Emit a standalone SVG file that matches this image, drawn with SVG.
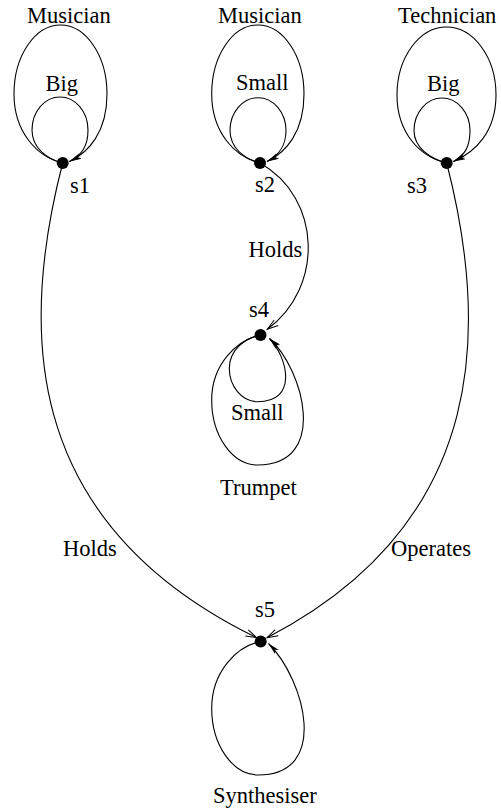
<svg xmlns="http://www.w3.org/2000/svg" width="501" height="811" viewBox="0 0 501 811">
<style>
.e{fill:none;stroke:#000;stroke-width:1.1}
.t{font-family:"Liberation Serif","Times New Roman",serif;font-size:22.5px;fill:#000}
.d{fill:#000}
</style>
<defs>
<marker id="open" viewBox="0 0 14 10" refX="12" refY="5" markerWidth="14" markerHeight="10" markerUnits="userSpaceOnUse" orient="auto">
<path d="M1,1.6 L12,5 L1,8.4" fill="none" stroke="#000" stroke-width="1"/>
</marker>
<marker id="solid" viewBox="0 0 14 8" refX="12" refY="4" markerWidth="14" markerHeight="8" markerUnits="userSpaceOnUse" orient="auto">
<path d="M0,1.3 L12,4 L0,6.7 L3,4 z" fill="#000"/>
</marker>
</defs>
<rect width="501" height="811" fill="#fff"/>
<g id="connectors">
<path class="e" marker-end="url(#solid)" d="M62.7,163 C37.1,157 14,132 14,94 C14,56 34.9,25 60.5,25 C86.1,25 107,56 107,94 C107,132 88.7,152.5 69.5,161.5"/>
<path class="e" marker-end="url(#solid)" d="M62.7,163 C47.3,159 32,148.2 32,130 C32,111.8 44.6,97 60,97 C75.4,97 88,111.8 88,130 C88,146 82,155 69.5,161.5"/>
<path class="e" marker-end="url(#solid)" d="M260,163 C234.6,157 211.7,132 211.7,94 C211.7,56 232.5,25 257.85,25 C283.2,25 304,56 304,94 C304,132 286,152.5 267,161.5"/>
<path class="e" marker-end="url(#solid)" d="M260,163 C244.6,159 230,148.3 230,130.35 C230,112.4 242.6,97.7 258,97.7 C273.4,97.7 286,112.4 286,130.35 C286,146 279.3,155 267,161.5"/>
<path class="e" marker-end="url(#solid)" d="M446.7,163 C419.5,157 397,132.4 397,95 C397,57.6 419.3,27 446.5,27 C473.7,27 496,57.6 496,95 C496,132.4 474.7,152.5 453.5,161.5"/>
<path class="e" marker-end="url(#solid)" d="M446.7,163 C431.3,159 414,148.4 414,130.5 C414,112.6 426.6,98 442,98 C457.4,98 470,112.6 470,130.5 C470,146 465.4,155 453.5,161.5"/>
<path class="e" marker-end="url(#open)" d="M260,163 C322,198 324,288 267.3,329.3"/>
<path class="e" marker-end="url(#solid)" d="M260.5,335 C237,340 211.7,364.25 211.7,400 C211.7,435.75 232.3,465 257.5,465 C329,465 304,370 269.5,338.5"/>
<path class="e" marker-end="url(#solid)" d="M260.5,335 C245,338 229.3,350 229.3,368.35 C229.3,386.7 242,401.7 257.65,401.7 C298,401.7 288,358 269.5,338.5"/>
<path class="e" marker-end="url(#open)" d="M62.7,163 C22,320 15,520 256.7,637.7"/>
<path class="e" marker-end="url(#open)" d="M446.7,163 C487,320 494,520 267,637.7"/>
<path class="e" marker-end="url(#solid)" d="M260.7,641.5 C237,646 211.7,671.5 211.7,708.25 C211.7,745 232.65,775 258.35,775 C330,775 305,680 268.5,643.5"/>
</g>
<g id="s1"><circle class="d" cx="62.7" cy="163" r="6"/><text class="t" x="70" y="193">s1</text><text class="t" x="27" y="23">Musician</text><text class="t" x="45.5" y="91">Big</text></g>
<g id="s2"><circle class="d" cx="260" cy="163" r="6"/><text class="t" x="255" y="192">s2</text><text class="t" x="218" y="23">Musician</text><text class="t" x="236" y="90">Small</text></g>
<g id="s3"><circle class="d" cx="446.7" cy="163" r="6"/><text class="t" x="407" y="193">s3</text><text class="t" x="398" y="23">Technician</text><text class="t" x="427" y="91">Big</text></g>
<g id="s4"><circle class="d" cx="260.5" cy="335" r="6"/><text class="t" x="249" y="317">s4</text><text class="t" x="231" y="420">Small</text><text class="t" x="220" y="495">Trumpet</text></g>
<g id="s5"><circle class="d" cx="260.7" cy="641.5" r="6"/><text class="t" x="255" y="617">s5</text><text class="t" x="213" y="803">Synthesiser</text></g>
<g id="labels"><text class="t" x="248.5" y="257">Holds</text><text class="t" x="63" y="556">Holds</text><text class="t" x="391" y="556">Operates</text></g>
</svg>
